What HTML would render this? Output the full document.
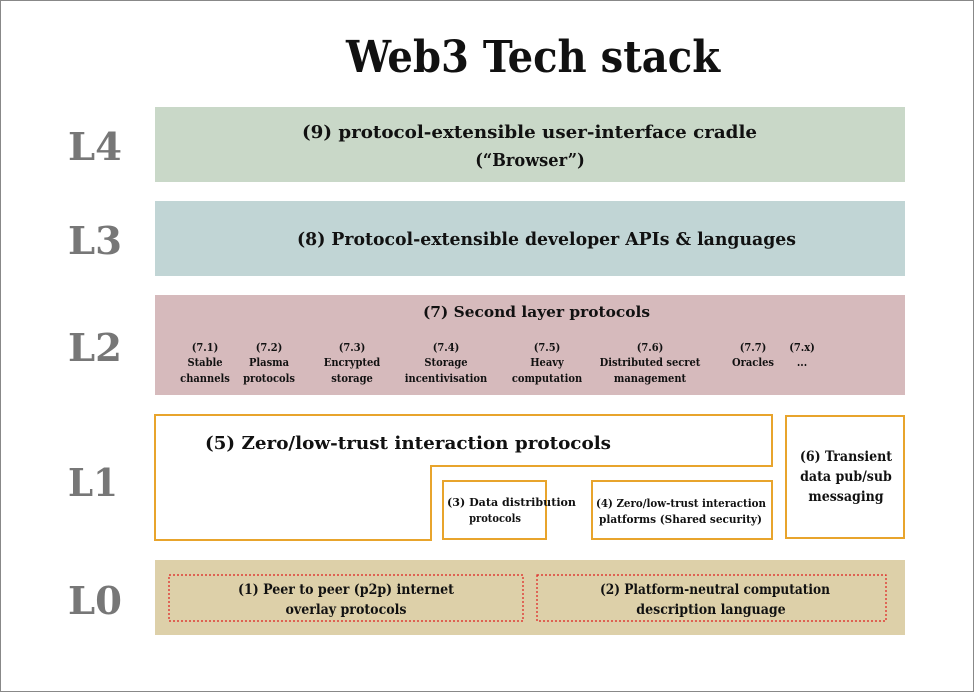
<!DOCTYPE html>
<html><head><meta charset="utf-8"><style>
body{margin:0;background:#fff}
text{font-family:"DejaVu Serif Condensed","Liberation Serif",serif;font-weight:bold;fill:#111}
</style></head><body>
<svg width="974" height="692" viewBox="0 0 974 692" xmlns="http://www.w3.org/2000/svg">
<rect x="0.5" y="0.5" width="973" height="691" fill="#fff" stroke="#888"/>
<text x="346" y="72" font-size="44" textLength="374" lengthAdjust="spacingAndGlyphs">Web3 Tech stack</text>
<g font-size="38">
<text x="68" y="160" style="fill:#777" textLength="54" lengthAdjust="spacingAndGlyphs">L4</text>
<text x="68" y="254" style="fill:#777" textLength="54" lengthAdjust="spacingAndGlyphs">L3</text>
<text x="68" y="361" style="fill:#777" textLength="54" lengthAdjust="spacingAndGlyphs">L2</text>
<text x="68" y="496" style="fill:#777" textLength="50" lengthAdjust="spacingAndGlyphs">L1</text>
<text x="68" y="614" style="fill:#777" textLength="54" lengthAdjust="spacingAndGlyphs">L0</text>
</g>
<rect x="155" y="107" width="750" height="75" fill="#c9d8c8"/>
<text x="302" y="138" font-size="18" textLength="455" lengthAdjust="spacingAndGlyphs">(9) protocol-extensible user-interface cradle</text>
<text x="530" y="166" font-size="18" text-anchor="middle">(“Browser”)</text>
<rect x="155" y="201" width="750" height="75" fill="#c1d5d5"/>
<text x="297" y="245" font-size="18" textLength="499" lengthAdjust="spacingAndGlyphs">(8) Protocol-extensible developer APIs &amp; languages</text>
<rect x="155" y="295" width="750" height="100" fill="#d6babc"/>
<text x="423" y="317" font-size="15" textLength="227" lengthAdjust="spacingAndGlyphs">(7) Second layer protocols</text>
<g font-size="11" text-anchor="middle">
<text x="205" y="351">(7.1)</text><text x="205" y="366">Stable</text><text x="205" y="382">channels</text>
<text x="269" y="351">(7.2)</text><text x="269" y="366">Plasma</text><text x="269" y="382">protocols</text>
<text x="352" y="351">(7.3)</text><text x="352" y="366">Encrypted</text><text x="352" y="382">storage</text>
<text x="446" y="351">(7.4)</text><text x="446" y="366">Storage</text><text x="446" y="382">incentivisation</text>
<text x="547" y="351">(7.5)</text><text x="547" y="366">Heavy</text><text x="547" y="382">computation</text>
<text x="650" y="351">(7.6)</text><text x="650" y="366">Distributed secret</text><text x="650" y="382">management</text>
<text x="753" y="351">(7.7)</text><text x="753" y="366">Oracles</text>
<text x="802" y="351">(7.x)</text><text x="802" y="366">...</text>
</g>
<g fill="#fff" stroke="#e8a42c" stroke-width="2">
<path d="M155,415 H772 V466 H431 V540 H155 Z"/>
<rect x="443" y="481" width="103" height="58"/>
<rect x="592" y="481" width="180" height="58"/>
<rect x="786" y="416" width="118" height="122"/>
</g>
<text x="205" y="449" font-size="18" textLength="406" lengthAdjust="spacingAndGlyphs">(5) Zero/low-trust interaction protocols</text>
<text x="447" y="506" font-size="11" textLength="129" lengthAdjust="spacingAndGlyphs">(3) Data distribution</text>
<text x="495" y="522" font-size="11" text-anchor="middle">protocols</text>
<text x="596" y="507" font-size="11" textLength="170" lengthAdjust="spacingAndGlyphs">(4) Zero/low-trust interaction</text>
<text x="599" y="523" font-size="11" textLength="163" lengthAdjust="spacingAndGlyphs">platforms (Shared security)</text>
<g font-size="14" text-anchor="middle">
<text x="846" y="461">(6) Transient</text><text x="846" y="481">data pub/sub</text><text x="846" y="501">messaging</text>
</g>
<rect x="155" y="560" width="750" height="75" fill="#ddd0a9"/>
<g fill="none" stroke="#e02020" stroke-width="1.2" stroke-dasharray="2,2">
<rect x="169" y="575" width="354" height="46"/>
<rect x="537" y="575" width="349" height="46"/>
</g>
<text x="238" y="594" font-size="14" textLength="216" lengthAdjust="spacingAndGlyphs">(1) Peer to peer (p2p) internet</text>
<text x="346" y="614" font-size="14" text-anchor="middle">overlay protocols</text>
<text x="600" y="594" font-size="14" textLength="230" lengthAdjust="spacingAndGlyphs">(2) Platform-neutral computation</text>
<text x="711" y="614" font-size="14" text-anchor="middle">description language</text>
</svg>
</body></html>
